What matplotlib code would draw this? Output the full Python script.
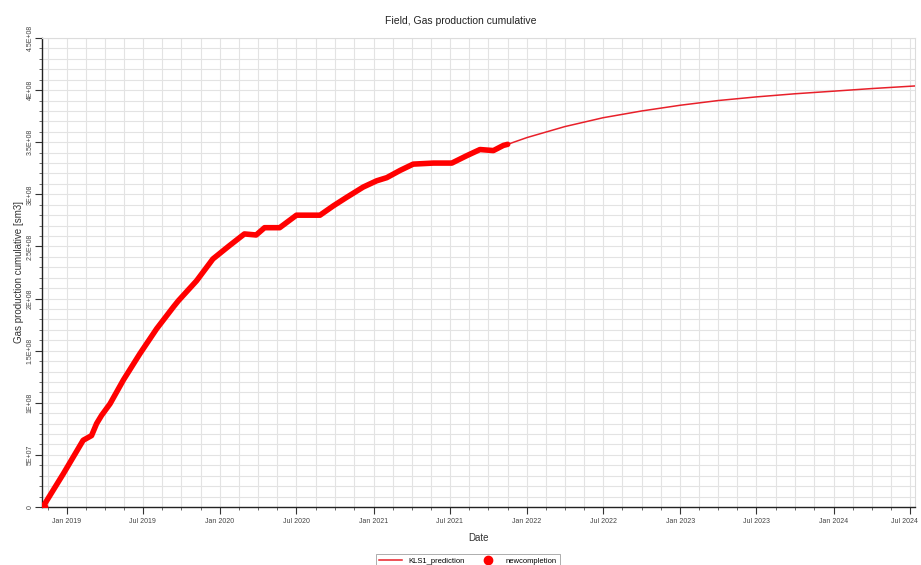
import matplotlib
matplotlib.use("Agg")
import matplotlib.pyplot as plt
import matplotlib.dates as mdates
import matplotlib.transforms as mtransforms
from matplotlib.ticker import FixedLocator
import numpy as np
import pandas as pd

plt.rcParams['font.family'] = ['Liberation Sans', 'DejaVu Sans']

# Historical cumulative gas production (sm3)
hist_dates = ["2018-11-05", "2018-12-24", "2019-02-09", "2019-03-01", "2019-03-13",
              "2019-03-25", "2019-04-14", "2019-05-16", "2019-06-24", "2019-08-03",
              "2019-09-12", "2019-09-24", "2019-11-06", "2019-12-15", "2020-01-24",
              "2020-02-28", "2020-03-27", "2020-04-16", "2020-05-22", "2020-07-01",
              "2020-08-26", "2020-09-27", "2020-10-28", "2020-12-07", "2021-01-08",
              "2021-02-01", "2021-03-05", "2021-04-05", "2021-05-23", "2021-07-06",
              "2021-08-10", "2021-09-11", "2021-10-13", "2021-11-06", "2021-11-16"]
hist_values = [0.0e8, 0.32e8, 0.64e8, 0.685e8, 0.80e8,
               0.88e8, 0.99e8, 1.22e8, 1.47e8, 1.71e8,
               1.92e8, 1.98e8, 2.17e8, 2.38e8, 2.51e8,
               2.62e8, 2.61e8, 2.68e8, 2.68e8, 2.80e8,
               2.80e8, 2.89e8, 2.97e8, 3.07e8, 3.13e8,
               3.16e8, 3.23e8, 3.29e8, 3.30e8, 3.30e8,
               3.37e8, 3.43e8, 3.42e8, 3.47e8, 3.48e8]

# Forecast of cumulative production (sm3)
pred_dates = ["2021-11-16", "2022-01-01", "2022-04-01", "2022-07-01", "2022-10-01",
              "2023-01-01", "2023-04-01", "2023-07-01", "2023-10-01", "2024-01-01",
              "2024-04-01", "2024-07-13"]
pred_values = [3.48e8, 3.545e8, 3.65e8, 3.735e8, 3.80e8,
               3.855e8, 3.90e8, 3.935e8, 3.965e8, 3.99e8,
               4.015e8, 4.04e8]

y_tick_labels = ["0", "5E+07", "1E+08", "1.5E+08", "2E+08", "2.5E+08",
                 "3E+08", "3.5E+08", "4E+08", "4.5E+08"]

hd = pd.to_datetime(hist_dates)
pdt = pd.to_datetime(pred_dates)

fig = plt.figure(figsize=(9.21, 5.65), dpi=100)
ax = fig.add_axes([0.0456, 0.1027, 0.9479, 0.830])

red = "#ff0000"
ax.plot(pdt, pred_values, color="#e8202a", lw=1.1, label="KLS1_prediction", zorder=3)
ax.plot(hd, hist_values, color=red, lw=4.0, solid_capstyle="round",
        solid_joinstyle="round", zorder=4)
ax.plot(hd[:1], hist_values[:1], color=red, marker="o", ms=6, ls="none",
        label="newcompletion", zorder=4)

ax.set_xlim(pd.Timestamp("2018-11-03"), pd.Timestamp("2024-07-13"))
ax.set_ylim(0, 4.5e8)

# x ticks: Jan/Jul majors, each half-year split in four
majors = pd.date_range("2019-01-01", "2024-07-01", freq="6MS")
major_num = mdates.date2num(majors)
minor_num = []
edges = np.concatenate([[major_num[0] - 181], major_num, [major_num[-1] + 184]])
for a, b in zip(edges[:-1], edges[1:]):
    for k in range(1, 4):
        minor_num.append(a + (b - a) * k / 4)
ax.xaxis.set_major_locator(FixedLocator(major_num))
ax.xaxis.set_minor_locator(FixedLocator(minor_num))
ax.xaxis.set_major_formatter(mdates.DateFormatter("%b %Y"))

yt = np.arange(0, 4.5e8 + 1, 5e7)
ax.yaxis.set_major_locator(FixedLocator(yt))
ax.yaxis.set_minor_locator(FixedLocator(np.arange(0, 4.5e8 + 1, 1e7)))
ax.set_yticklabels(y_tick_labels)

ax.grid(True, which="both", color="#e3e3e3", lw=0.8, zorder=0)
ax.set_axisbelow(True)

ax.tick_params(axis="x", which="major", labelsize=5, labelcolor="#444444",
               length=5, width=0.8, color="#333333", pad=3)
ax.tick_params(axis="y", which="major", labelsize=5, labelcolor="#444444",
               length=5, width=0.8, color="#333333", pad=1)
ax.tick_params(axis="both", which="minor", length=2.5, width=0.6, color="#555555")
for lbl in ax.get_yticklabels():
    lbl.set_rotation(90)
    lbl.set_va("center")

fig.canvas.draw()
last = ax.get_xticklabels()[-1]
last.set_transform(last.get_transform() +
                   mtransforms.ScaledTranslation(-6 / 100, 0, fig.dpi_scale_trans))

for s in ["left", "bottom"]:
    ax.spines[s].set_color("#222222")
    ax.spines[s].set_linewidth(1.0)
for s in ["top", "right"]:
    ax.spines[s].set_color("#dcdcdc")
    ax.spines[s].set_linewidth(0.8)

ax.set_xlabel("Date", fontsize=7, color="#333333", labelpad=6)
ax.set_ylabel("Gas production cumulative [sm3]", fontsize=7, color="#333333", labelpad=2)
fig.text(0.5, 0.963, "Field, Gas production cumulative", ha="center", va="center",
         fontsize=7.5, color="#222222")

leg = fig.legend(loc="upper center", bbox_to_anchor=(0.508, 0.027), ncol=2,
                 fontsize=5.5, frameon=True, fancybox=False, edgecolor="#888888",
                 handlelength=3, columnspacing=1.5, borderpad=0.5)
leg.get_frame().set_linewidth(0.6)

fig.savefig("out.png", dpi=100)
